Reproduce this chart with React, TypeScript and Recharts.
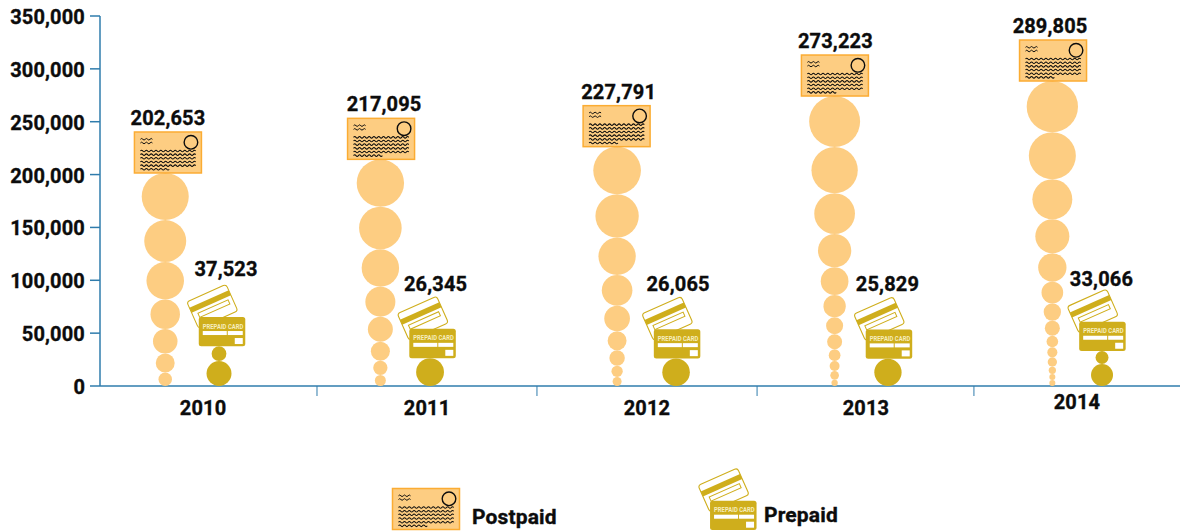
import { ScatterChart, Scatter, XAxis, YAxis, Legend } from 'recharts';

const years = ['2010', '2011', '2012', '2013', '2014'];
const postpaidValues = [202653, 217095, 227791, 273223, 289805];
const prepaidValues = [37523, 26345, 26065, 25829, 33066];
const yTicks = [0, 50000, 100000, 150000, 200000, 250000, 300000, 350000];

// each list is the running height of a pile of beads, bottom to top
const postpaidPiles = [
  [12800, 30700, 53900, 81800, 117300, 157000, 201500],
  [10400, 23900, 41900, 65500, 93900, 129300, 169600, 214400],
  [8500, 19200, 33800, 51700, 76000, 105000, 140300, 181300, 226400],
  [6000, 14200, 23600, 34700, 48900, 65000, 86100, 112300, 143800, 182300, 226100, 274300],
  [5700, 11400, 18300, 27100, 36600, 47600, 61800, 78200, 98700, 125500, 157700, 195500, 240000, 288500],
];
const prepaidPiles = [[23600, 37523], [26345], [26065], [25829], [20800, 33066]];

// layout: pile positions on the x axis (one unit is one year band)
const postpaidPos = [0.302, 1.298, 2.394, 3.401, 4.409];
const prepaidPos = [0.551, 1.528, 2.667, 3.648, 4.639];
const bandEdges = [1.0046, 2.023, 3.042, 4.046];
const yearPos = [0.477, 1.514, 2.532, 3.546, 4.523];
const postcardDx = [2.7, 0.7, -0.5, 0.3, 0.7];
const postcardLabelDx = [0, 3, 2, 0.5, -3];
const prepaidDx = [3, 2.5, 1, 1, 0.4];
const prepaidLabelDx = [4, 3, 1, -1.5, -1];
const prepaidLabelDy = [40.7, 38, 38, 38, 35.7];

const WIDTH = 1180;
const HEIGHT = 531;
const PLOT_HEIGHT = 370;
const Y_MAX = 350000;
const FONT = 'Roboto, sans-serif';
const INK = '#0c0c0c';
const AXIS = '#2f7cac';
const PEACH = '#fdcd82';
const ORANGE = '#fbac33';
const GOLD = '#cfae1c';

const toBeads = (piles: number[][], positions: number[]) =>
  piles.flatMap((pile, i) =>
    pile.map((top, j) => {
      const bottom = j === 0 ? 0 : pile[j - 1];
      return { pos: positions[i], value: (top + bottom) / 2, span: top - bottom };
    }),
  );

const postpaidBeads = toBeads(postpaidPiles, postpaidPos);
const prepaidBeads = toBeads(prepaidPiles, prepaidPos);
const postcards = postpaidPiles.map((pile, i) => ({
  pos: postpaidPos[i],
  value: pile[pile.length - 1],
  i,
}));
const cards = prepaidValues.map((v, i) => ({ pos: prepaidPos[i], value: v, i }));

const wave = (x: number, y: number, len: number) => {
  let d = `M${x} ${y}`;
  for (let s = 0, up = true; s < len; s += 2.4, up = !up) {
    d += ` q1.2 ${up ? -1.6 : 1.6} 2.4 0`;
  }
  return d;
};

// x, y: bottom centre of the card
function Postcard({ x, y }: { x: number; y: number }) {
  const w = 67;
  const h = 41;
  const rows = [19, 22.7, 26.3, 30, 33.7, 37.3];
  return (
    <g transform={`translate(${x - w / 2} ${y - h})`}>
      <rect width={w} height={h} fill={PEACH} stroke={ORANGE} strokeWidth={1.5} />
      <circle cx={56.5} cy={10.3} r={6.8} fill="none" stroke={INK} strokeWidth={1.4} />
      <path d={wave(6, 7.3, 12)} fill="none" stroke={INK} strokeWidth={1} />
      <path d={wave(6, 11, 12)} fill="none" stroke={INK} strokeWidth={1} />
      {rows.map((r, k) => (
        <path
          key={k}
          d={wave(6, r, k === rows.length - 1 ? 28 : 55)}
          fill="none"
          stroke={INK}
          strokeWidth={1.05}
        />
      ))}
    </g>
  );
}

// x, y: bottom centre of the front card
function PrepaidCards({ x, y }: { x: number; y: number }) {
  const w = 46.5;
  const h = 29.3;
  return (
    <g transform={`translate(${x} ${y - h / 2})`}>
      <g transform="translate(-9.7 -25.3) rotate(-24)">
        <rect x={-21.5} y={-14.5} width={43} height={29} rx={3} fill="#fff" stroke={GOLD} strokeWidth={1.1} />
        <rect x={-21.5} y={-8} width={43} height={5.5} fill={GOLD} />
        <rect x={-16} y={0.5} width={33} height={4.5} fill="none" stroke={GOLD} strokeWidth={1} />
      </g>
      <g transform={`translate(${-w / 2} ${-h / 2})`}>
        <rect width={w} height={h} rx={2.5} fill={GOLD} />
        <text
          x={4}
          y={11.5}
          fontFamily={FONT}
          fontWeight={700}
          fontSize={6.5}
          fill="#f6edbd"
          textLength={40.5}
          lengthAdjust="spacingAndGlyphs"
        >
          PREPAID CARD
        </text>
        <rect x={4} y={14} width={24} height={4} fill="#fff" />
        <rect x={29} y={14} width={15} height={4} fill="#fff" />
        <rect x={36} y={21} width={8} height={6} fill="#fff" />
      </g>
    </g>
  );
}

const labelStyle = {
  fontFamily: FONT,
  fontWeight: 700,
  fontSize: 20,
  fill: INK,
  stroke: INK,
  strokeWidth: 0.35,
  letterSpacing: 0.15,
};

function BeadShape({ cx, cy, span, color }: any) {
  return <circle cx={cx} cy={cy} r={((span / Y_MAX) * PLOT_HEIGHT) / 2} fill={color} />;
}

function PostcardShape({ cx, cy, i }: any) {
  const x = cx + postcardDx[i];
  return (
    <g>
      <Postcard x={x} y={cy} />
      <text x={x + postcardLabelDx[i]} y={cy - 48} textAnchor="middle" {...labelStyle}>
        {postpaidValues[i].toLocaleString('en-US')}
      </text>
    </g>
  );
}

function CardShape({ cx, cy, i }: any) {
  const x = cx + prepaidDx[i];
  return (
    <g>
      <PrepaidCards x={x} y={cy} />
      <text x={x + prepaidLabelDx[i]} y={cy - 29.3 - prepaidLabelDy[i]} textAnchor="middle" {...labelStyle}>
        {prepaidValues[i].toLocaleString('en-US')}
      </text>
    </g>
  );
}

function XTick({ x, y, payload }: any) {
  const edge = bandEdges.includes(payload.value);
  if (edge) {
    return <line x1={x} x2={x} y1={y} y2={y + 10} stroke={AXIS} strokeWidth={1} />;
  }
  const i = yearPos.indexOf(payload.value);
  return (
    <text x={x} y={i === 4 ? y + 23 : y + 29} textAnchor="middle" {...labelStyle}>
      {years[i]}
    </text>
  );
}

function YTick({ x, y, payload }: any) {
  return (
    <text x={x} y={y + 8} textAnchor="end" {...labelStyle}>
      {payload.value.toLocaleString('en-US')}
    </text>
  );
}

function LegendContent({ payload }: any) {
  const names = (payload ?? []).map((p: any) => p.value);
  return (
    <svg width={WIDTH} height={70} style={{ display: 'block' }}>
      <g transform="translate(0 -461)">
        <Postcard x={426} y={529.5} />
        <text x={472} y={524} {...labelStyle} fontSize={21}>
          {names[0]}
        </text>
        <PrepaidCards x={733.3} y={530} />
        <text x={764} y={522} {...labelStyle} fontSize={21}>
          {names[1]}
        </text>
      </g>
    </svg>
  );
}

export default function App() {
  return (
    <div style={{ position: 'absolute', left: 0, top: 0 }}>
      <ScatterChart
        width={WIDTH}
        height={HEIGHT}
        margin={{ top: 16, right: 0, bottom: 45, left: 0 }}
      >
        <XAxis
          type="number"
          dataKey="pos"
          domain={[0, 5]}
          ticks={[...bandEdges, ...yearPos]}
          interval={0}
          height={30}
          tickLine={false}
          tickSize={0}
          tickMargin={0}
          tick={<XTick />}
          stroke={AXIS}
          strokeWidth={1.5}
        />
        <YAxis
          type="number"
          dataKey="value"
          domain={[0, Y_MAX]}
          ticks={yTicks}
          interval={0}
          width={100}
          tickSize={10}
          tickMargin={5}
          tick={<YTick />}
          stroke={AXIS}
          strokeWidth={1.5}
        />
        <Legend
          content={<LegendContent />}
          wrapperStyle={{ position: 'absolute', left: 0, top: 461, width: WIDTH, height: 70 }}
        />
        <Scatter
          legendType="none"
          data={postpaidBeads}
          isAnimationActive={false}
          shape={(p: any) => <BeadShape {...p} span={p.payload.span} color={PEACH} />}
        />
        <Scatter
          legendType="none"
          data={prepaidBeads}
          isAnimationActive={false}
          shape={(p: any) => <BeadShape {...p} span={p.payload.span} color={GOLD} />}
        />
        <Scatter
          name="Postpaid"
          data={postcards}
          fill={PEACH}
          isAnimationActive={false}
          shape={(p: any) => <PostcardShape {...p} i={p.payload.i} />}
        />
        <Scatter
          name="Prepaid"
          data={cards}
          fill={GOLD}
          isAnimationActive={false}
          shape={(p: any) => <CardShape {...p} i={p.payload.i} />}
        />
      </ScatterChart>
    </div>
  );
}
